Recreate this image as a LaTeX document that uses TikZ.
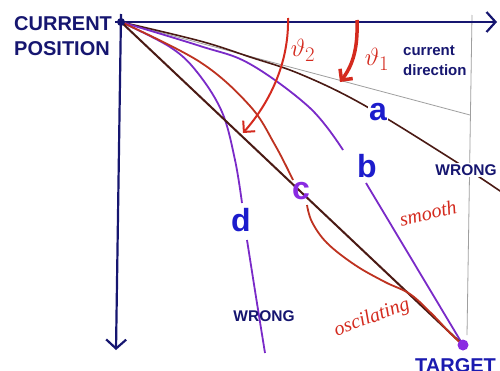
\documentclass[tikz,border=0pt]{standalone}
\usepackage{fontspec}
\setmainfont{Liberation Sans}
\newfontfamily\handfont{Liberation Serif}
\usetikzlibrary{arrows.meta}
\definecolor{navy}{HTML}{161670}
\definecolor{lblue}{HTML}{1C1CCC}
\definecolor{purp}{HTML}{7A2AC8}
\definecolor{cpurp}{HTML}{8A2BE2}
\definecolor{brn}{HTML}{4A1A14}
\definecolor{rd}{HTML}{D42A1E}
\definecolor{rdd}{HTML}{BE3220}
\begin{document}
\begin{tikzpicture}[x=1pt,y=-1pt,
  axis/.style={draw=navy, line width=2.2pt},
  axtip/.style={-{Straight Barb[length=9pt,width=20pt,line width=2.2pt]}},
  thin/.style={draw=gray!75, line width=0.8pt},
  acurve/.style={draw=brn, line width=1.6pt},
  pcurve/.style={draw=purp, line width=1.8pt},
  rcurve/.style={draw=rdd, line width=1.8pt},
  redarrow/.style={draw=rd, -{Straight Barb[length=8pt,width=16pt]}},
  biglabel/.style={font=\fontsize{20}{22}\bfseries\selectfont, text=navy, anchor=base west, inner sep=0pt},
  letter/.style={font=\fontsize{32}{32}\bfseries\selectfont, fill=white, inner sep=1.5pt},
  wrong/.style={font=\fontsize{15.5}{18}\bfseries\selectfont, text=navy, fill=white, inner sep=1.5pt},
  hand/.style={text=rd, font=\handfont\itshape\fontsize{20}{20}\selectfont, inner sep=0pt},
  theta/.style={text=rd, font=\fontsize{28}{28}\selectfont, inner sep=0pt}
]
\useasboundingbox (0,0) rectangle (500,370);
\fill[white] (0,0) rectangle (500,370);

\coordinate (cur) at (121,22);
\coordinate (tgt) at (463,345);
\coordinate (xend) at (497,22);
\coordinate (yend) at (116,350);
\coordinate (dirend) at (470,115);

% gray guide lines
\draw[thin] (cur) -- (dirend);
\draw[thin] (472,15) -- (467,335);

% axes
\draw[axis, axtip] (115,22) -- (xend);
\draw[axis, axtip] (121,14) -- (yend);

% curve a
\draw[acurve] plot[smooth, tension=0.6] coordinates {(121,22) (200,41) (250,57) (300,74) (362,104) (450,158) (506,195)};

% curve b
\draw[pcurve] plot[smooth, tension=0.6] coordinates {(121,22) (200,46) (250,64) (310,108) (343,150)};
\draw[pcurve] (366,183) -- (tgt);

% curve d
\draw[pcurve] plot[smooth, tension=0.6] coordinates {(121,22) (170,47) (197,72) (222,112) (235,160) (242,203)};
\draw[pcurve] plot[smooth, tension=0.6] coordinates {(247,240) (256,297) (265,353)};

% curve c
\draw[rcurve] plot[smooth, tension=0.6] coordinates {(121,22) (200,62) (250,106) (275,145) (293,180)};

% direct line
\draw[draw=brn, line width=2pt] (cur) -- (tgt);

% oscillating part
\draw[rcurve] plot[smooth, tension=0.6] coordinates {(307,205) (312,222) (327,243) (355,265) (385,282) (410,294) (432,314) (450,333) (463,345)};

% red angle arrows
\draw[redarrow, line width=2pt] (288,18) .. controls (289,60) and (272,100) .. (243,133);
\draw[redarrow, line width=3.5pt] (357,20) .. controls (358,48) and (353,65) .. (340,82);

% points
\fill[navy] (cur) circle[radius=4pt];
\fill[cpurp] (tgt) circle[radius=5.5pt];

% labels
\node[biglabel] (curtxt) at (14,30) {CURRENT};
\node[biglabel] (postxt) at (14,55) {POSITION};
\node[biglabel, text=lblue!70!navy] (tgttxt) at (415,372) {TARGET};
\node[font=\fontsize{15}{18}\bfseries\selectfont, text=navy, anchor=base west, inner sep=0pt] (cd1) at (403,55) {current};
\node[font=\fontsize{15}{18}\bfseries\selectfont, text=navy, anchor=base west, inner sep=0pt] (cd2) at (403,75) {direction};

\node[letter, text=lblue] (la) at (378,112) {a};
\node[letter, text=lblue] (lb) at (367,166) {b};
\node[letter, text=cpurp, fill=none] (lc) at (301,191) {c};
\node[letter, text=lblue] (ld) at (241,220) {d};

\node[wrong] (w1) at (466,170) {WRONG};
\node[wrong, fill=none] (w2) at (264,316) {WRONG};

\node[theta] (t2) at (303,50) {$\vartheta_2$};
\node[theta] (t1) at (377,59) {$\vartheta_1$};
\node[hand, rotate=13] (sm) at (428,213) {smooth};
\node[hand, rotate=20] (os) at (372,318) {oscilating};
\end{tikzpicture}
\end{document}
